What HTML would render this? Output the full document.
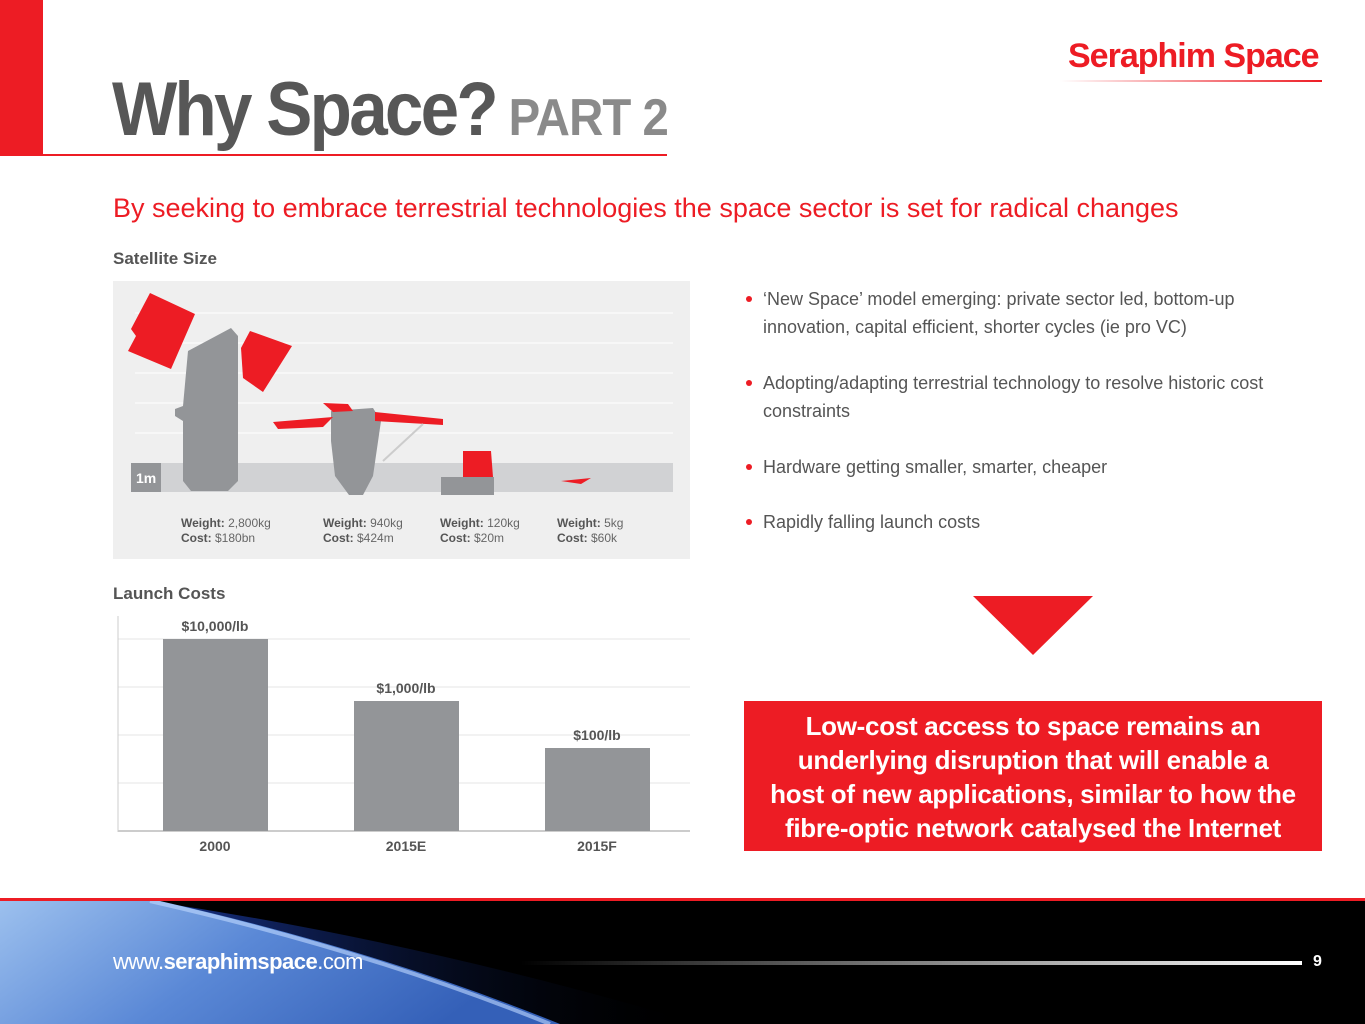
<!DOCTYPE html>
<html><head><meta charset="utf-8"><style>
*{margin:0;padding:0;box-sizing:border-box}
body{width:1365px;height:1024px;position:relative;overflow:hidden;background:#fff;font-family:"Liberation Sans",sans-serif}
.a{position:absolute}
.b{font-size:18px;color:#555;line-height:28px}
.b::before{content:"";position:absolute;left:-17px;top:11px;width:6px;height:6px;border-radius:50%;background:#ed1c24}
.lbl{font-size:12px;color:#666;line-height:15px}
.lbl b{color:#555}
</style></head><body>
<div class="a" style="left:0;top:0;width:43px;height:156px;background:#ed1c24"></div>
<div class="a" style="left:43px;top:154px;width:624px;height:2px;background:#ed1c24"></div>
<div class="a" style="left:112px;top:66px;font-size:76px;font-weight:bold;color:#575757;letter-spacing:-3px;white-space:nowrap;transform:scaleX(0.91);transform-origin:0 0">Why Space?<span style="font-size:52px;color:#8a8a8a;letter-spacing:-1px;margin-left:14px">PART 2</span></div>
<div class="a" style="left:1068px;top:37px;font-size:34px;font-weight:bold;color:#ed1c24;letter-spacing:-1px;white-space:nowrap">Seraphim Space</div>
<div class="a" style="left:1060px;top:80px;width:262px;height:2px;background:linear-gradient(90deg,#fff,#ed1c24)"></div>
<div class="a" style="left:113px;top:193px;font-size:27px;color:#ed1c24;white-space:nowrap">By seeking to embrace terrestrial technologies the space sector is set for radical changes</div>
<div class="a" style="left:113px;top:249px;font-size:17px;font-weight:bold;color:#555">Satellite Size</div>
<div class="a" style="left:113px;top:281px;width:577px;height:278px;background:#efefef"></div>
<svg class="a" style="left:113px;top:281px" width="577" height="278">
<g stroke="#fff" stroke-width="1"><line x1="22" y1="32" x2="560" y2="32"/><line x1="22" y1="62" x2="560" y2="62"/><line x1="22" y1="92" x2="560" y2="92"/><line x1="22" y1="122" x2="560" y2="122"/><line x1="22" y1="152" x2="560" y2="152"/></g>
<rect x="18" y="182" width="542" height="29" fill="#d1d2d4"/>
<rect x="18" y="182" width="30" height="29" fill="#939598"/>
<text x="23" y="202" font-size="14" font-weight="bold" fill="#fff">1m</text>
<path d="M75 70 L118 47 L125 55 L125 200 L115 210 L78 210 L70 200 L70 140 L62 135 L62 128 L70 125Z" fill="#939598"/>
<polygon points="37,12 82,33 58,88 15,70 23,55 18,48" fill="#ed1c24"/>
<polygon points="137,50 179,65 150,111 130,97 128,67" fill="#ed1c24"/>
<path d="M218 130 L260 127 L268 140 L260 195 L250 214 L236 214 L222 195 L218 160Z" fill="#939598"/>
<polygon points="160,141 220,136 210,146 165,148" fill="#ed1c24"/>
<polygon points="210,122 235,123 240,130 220,131" fill="#ed1c24"/>
<polygon points="262,131 330,138 330,144 262,140" fill="#ed1c24"/>
<line x1="270" y1="180" x2="310" y2="143" stroke="#ccc" stroke-width="2"/>
<rect x="328" y="196" width="53" height="18" fill="#939598"/>
<polygon points="350,170 378,170 380,196 350,196" fill="#ed1c24"/>
<polygon points="448,200 478,197 468,203" fill="#ed1c24"/>
</svg>
<div class="a lbl" style="left:181px;top:516px"><b>Weight:</b> 2,800kg<br><b>Cost:</b> $180bn</div>
<div class="a lbl" style="left:323px;top:516px"><b>Weight:</b> 940kg<br><b>Cost:</b> $424m</div>
<div class="a lbl" style="left:440px;top:516px"><b>Weight:</b> 120kg<br><b>Cost:</b> $20m</div>
<div class="a lbl" style="left:557px;top:516px"><b>Weight:</b> 5kg<br><b>Cost:</b> $60k</div>
<div class="a" style="left:113px;top:584px;font-size:17px;font-weight:bold;color:#555">Launch Costs</div>
<svg class="a" style="left:110px;top:610px" width="590" height="250">
<g stroke="#e6e6e6"><line x1="8" y1="29" x2="580" y2="29"/><line x1="8" y1="77" x2="580" y2="77"/><line x1="8" y1="125" x2="580" y2="125"/><line x1="8" y1="173" x2="580" y2="173"/></g>
<line x1="8" y1="6" x2="8" y2="222" stroke="#ccc"/>
<line x1="8" y1="221" x2="580" y2="221" stroke="#ccc" stroke-width="2"/>
<rect x="53" y="29" width="105" height="192" fill="#939598"/>
<rect x="244" y="91" width="105" height="130" fill="#939598"/>
<rect x="435" y="138" width="105" height="83" fill="#939598"/>
<g font-size="14" font-weight="bold" fill="#555" text-anchor="middle">
<text x="105" y="21">$10,000/lb</text><text x="296" y="83">$1,000/lb</text><text x="487" y="130">$100/lb</text>
<text x="105" y="241">2000</text><text x="296" y="241">2015E</text><text x="487" y="241">2015F</text></g>
</svg>
<div class="a b" style="left:763px;top:285px;width:540px">‘New Space’ model emerging: private sector led, bottom-up innovation, capital efficient, shorter cycles (ie pro VC)</div>
<div class="a b" style="left:763px;top:369px;width:540px">Adopting/adapting terrestrial technology to resolve historic cost constraints</div>
<div class="a b" style="left:763px;top:453px">Hardware getting smaller, smarter, cheaper</div>
<div class="a b" style="left:763px;top:508px">Rapidly falling launch costs</div>
<svg class="a" style="left:973px;top:596px" width="120" height="60"><polygon points="0,0 120,0 60,59" fill="#ed1c24"/></svg>
<div class="a" style="left:744px;top:701px;width:578px;height:150px;background:#ed1c24;color:#fff;font-weight:bold;font-size:26px;letter-spacing:-0.3px;line-height:34px;text-align:center;padding-top:8px;white-space:nowrap">Low-cost access to space remains an<br>underlying disruption that will enable a<br>host of new applications, similar to how the<br>fibre-optic network catalysed the Internet</div>
<div class="a" style="left:0;top:898px;width:1365px;height:3px;background:#ed1c24"></div>
<div class="a" style="left:0;top:901px;width:1365px;height:123px;background:#000"></div>
<svg class="a" style="left:0;top:901px" width="900" height="123">
<defs>
<linearGradient id="e" x1="0" y1="0" x2="1" y2="0.3"><stop offset="0" stop-color="#9cc0ee"/><stop offset="0.5" stop-color="#5a88d6"/><stop offset="1" stop-color="#3460b8"/></linearGradient>
<linearGradient id="g" x1="0" y1="0" x2="1" y2="0"><stop offset="0" stop-color="#1a3aa0"/><stop offset="1" stop-color="#000" stop-opacity="0"/></linearGradient>
</defs>
<path d="M150,0 Q420,40 700,123 L560,123 Q330,40 150,0Z" fill="url(#g)" opacity="0.9"/>
<path d="M0,0 L160,0 Q380,50 560,123 L0,123Z" fill="url(#e)"/>
<path d="M150,0 Q370,50 550,123" stroke="#c0d8ff" stroke-width="4" fill="none" opacity="0.6"/>
</svg>
<div class="a" style="left:113px;top:949px;font-size:22px;color:#fff;letter-spacing:-0.5px">www.<b>seraphimspace</b>.com</div>
<div class="a" style="left:520px;top:961px;width:782px;height:4px;background:linear-gradient(90deg,rgba(255,255,255,0),#fff)"></div>
<div class="a" style="left:1313px;top:953px;font-size:16px;color:#fff;font-weight:bold">9</div>
</body></html>
